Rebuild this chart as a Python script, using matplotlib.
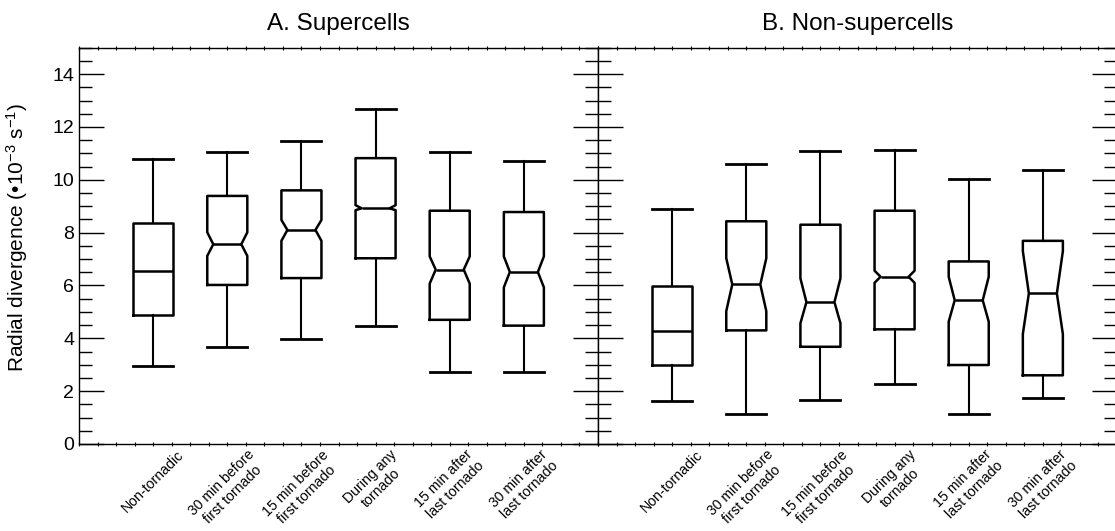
import numpy as np
import matplotlib
matplotlib.use("Agg")
import matplotlib.pyplot as plt
from matplotlib.ticker import MultipleLocator, FixedLocator

plt.rcParams['font.family'] = ['Liberation Sans', 'DejaVu Sans']
plt.rcParams['mathtext.fontset'] = 'custom'
plt.rcParams['mathtext.rm'] = 'Liberation Sans'
plt.rcParams['mathtext.it'] = 'Liberation Sans:italic'

categories = ["Non-tornadic", "30 min before\nfirst tornado", "15 min before\nfirst tornado",
              "During any\ntornado", "15 min after\nlast tornado", "30 min after\nlast tornado"]

# A. Supercells
whishi_A = [10.77, 11.04, 11.46, 12.67, 11.05, 10.72]
q3_A = [8.37, 9.39, 9.60, 10.82, 8.83, 8.78]
cihi_A = [None, 8.01, 8.48, 9.04, 7.10, 7.10]
med_A = [6.55, 7.56, 8.10, 8.92, 6.60, 6.51]
cilo_A = [None, 7.12, 7.69, 8.85, 6.07, 5.93]
q1_A = [4.87, 6.02, 6.28, 7.03, 4.70, 4.48]
whislo_A = [2.95, 3.68, 3.98, 4.46, 2.74, 2.71]

# B. Non-supercells
whishi_B = [8.88, 10.59, 11.09, 11.12, 10.03, 10.37]
q3_B = [5.98, 8.43, 8.30, 8.83, 6.91, 7.69]
cihi_B = [None, 7.03, 6.27, 6.56, 6.33, 7.30]
med_B = [4.29, 6.04, 5.37, 6.33, 5.44, 5.70]
cilo_B = [None, 5.03, 4.57, 6.10, 4.63, 4.16]
q1_B = [3.00, 4.30, 3.68, 4.34, 2.99, 2.60]
whislo_B = [1.64, 1.13, 1.66, 2.26, 1.13, 1.73]

titles = ["A. Supercells", "B. Non-supercells"]

W = 0.54  # box width

fig = plt.figure(figsize=(11.15, 5.31), dpi=100)
axA = fig.add_axes([79/1115, 1-444/531, 519/1115, (444-47.7)/531])
axB = fig.add_axes([598/1115, 1-444/531, 519/1115, (444-47.7)/531])


def draw(ax, lo, q1, cl, md, ch, q3, hi):
    plain, notched = [], []
    for i in range(len(md)):
        st = dict(whislo=lo[i], q1=q1[i], med=md[i], q3=q3[i], whishi=hi[i], fliers=[])
        if cl[i] is None:
            plain.append((i + 1, st))
        else:
            st['cilo'] = cl[i]
            st['cihi'] = ch[i]
            notched.append((i + 1, st))
    kw = dict(widths=W, capwidths=W, showfliers=False,
              boxprops=dict(color='black', lw=1.8),
              whiskerprops=dict(color='black', lw=1.5),
              capprops=dict(color='black', lw=2.0),
              medianprops=dict(color='black', lw=1.8))
    if plain:
        ax.bxp([s for _, s in plain], positions=[p for p, _ in plain], shownotches=False, **kw)
    if notched:
        pos = [p for p, _ in notched]
        res = ax.bxp([s for _, s in notched], positions=pos, shownotches=True, **kw)
        # shallower notches than matplotlib's default
        for box, medl, p in zip(res['boxes'], res['medians'], pos):
            x = np.array(box.get_xdata(), dtype=float)
            x[3] = p + 0.35 * W
            x[8] = p - 0.35 * W
            box.set_xdata(x)
            medl.set_xdata([p - 0.35 * W, p + 0.35 * W])


draw(axA, whislo_A, q1_A, cilo_A, med_A, cihi_A, q3_A, whishi_A)
draw(axB, whislo_B, q1_B, cilo_B, med_B, cihi_B, q3_B, whishi_B)

for ax, t in zip([axA, axB], titles):
    ax.set_xlim(0, 7)
    ax.set_ylim(0, 15)
    ax.xaxis.set_major_locator(FixedLocator(range(1, 7)))
    ax.set_xticklabels(categories, rotation=45, ha='center', va='top',
                       multialignment='center', fontsize=10.2)
    ax.xaxis.set_minor_locator(MultipleLocator(0.25))
    ax.yaxis.set_major_locator(MultipleLocator(2))
    ax.yaxis.set_minor_locator(MultipleLocator(0.5))
    ax.tick_params(axis='x', which='both', direction='inout', length=3, width=0.8,
                   top=True, bottom=True, pad=1)
    ax.tick_params(axis='y', which='major', direction='in', length=18, width=1,
                   left=True, right=True, labelsize=14)
    ax.tick_params(axis='y', which='minor', direction='in', length=9.5, width=1,
                   left=True, right=True)
    for s in ax.spines.values():
        s.set_linewidth(1.0)
    ax.set_title(t, fontsize=17.5, pad=13)

axB.tick_params(axis='y', labelleft=False)
axA.set_ylabel("Radial divergence (•10$^{-3}$ s$^{-1}$)", fontsize=15)
axA.yaxis.set_label_coords(-0.094, 0.52)

fig.savefig("out.png", dpi=100)
